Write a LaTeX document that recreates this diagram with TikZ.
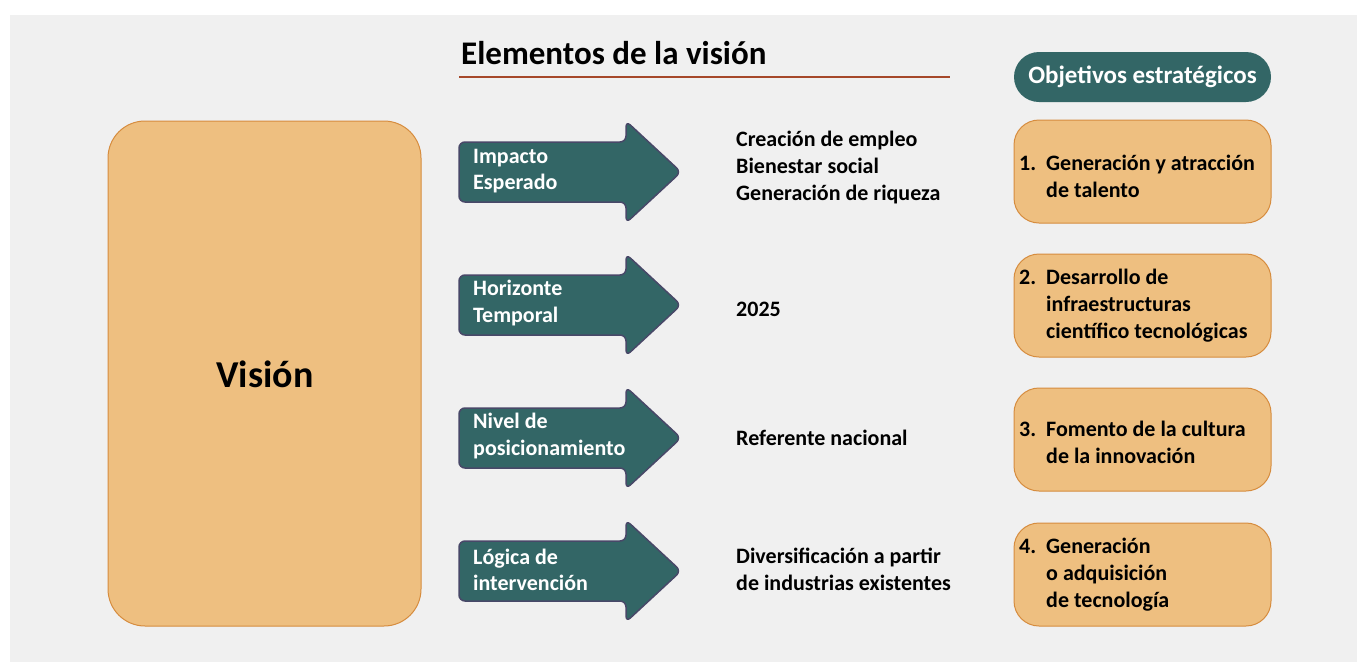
\documentclass[tikz,border=0pt]{standalone}
\usepackage{fontspec}
\setmainfont{Carlito}
\usepackage{tikz}
\usepackage{xcolor}
\definecolor{panelgrey}{RGB}{240, 240, 240}
\definecolor{visionorange}{RGB}{238, 191, 128}
\definecolor{edgeorange}{RGB}{214, 140, 62}
\definecolor{arrowteal}{RGB}{51, 102, 102}
\definecolor{arrowedge}{RGB}{72, 72, 104}
\definecolor{titlerule}{RGB}{166, 72, 42}

\tikzset{
    orangebox/.style={fill=visionorange, draw=edgeorange, line width=1pt, rounded corners=25pt},
    tealarrow/.style={fill=arrowteal, draw=arrowedge, line width=1.5pt, rounded corners=6pt},
    arrowtext/.style={anchor=west, align=left, text=white, font=\bfseries\fontsize{22}{26.5}\selectfont, inner sep=0pt},
    itemtext/.style={anchor=west, align=left, font=\bfseries\fontsize{22}{27}\selectfont, inner sep=0pt},
    goaltext/.style={anchor=west, align=left, font=\bfseries\fontsize{22}{27}\selectfont, inner sep=0pt}
}
\newcommand{\goalnum}[1]{\makebox[27pt][l]{#1}}
\newcommand{\goalpad}{\hspace*{27pt}}

\begin{document}
\begin{tikzpicture}[x=1pt, y=-1pt]
    \useasboundingbox (0,0) rectangle (1357,662);
    \fill[white] (0,0) rectangle (1357,662);
    \fill[panelgrey] (10,15) rectangle (1357,662);

    % Title
    \node[anchor=west, inner sep=0pt, font=\bfseries\fontsize{33}{38}\selectfont] (title) at (461,53) {Elementos de la visión};
    \draw[titlerule, line width=2.5pt] (459,77) -- (950,77);

    % Vision
    \draw[orangebox, rounded corners=37pt] (108,121) rectangle (421,626);
    \node[font=\bfseries\fontsize{38}{44}\selectfont] (vision) at (265,374) {Visión};

    % Arrow 1
    \draw[tealarrow] (459,142) -- (626,142) -- (626,121) -- (681,172) -- (626,223) -- (626,202) -- (459,202) -- cycle;
    \node[arrowtext] (impacto) at (473,171) {Impacto\\Esperado};
    \node[itemtext] (empleo) at (736,168) {Creación de empleo\\Bienestar social\\Generación de riqueza};

    % Arrow 2
    \draw[tealarrow] (459,275) -- (626,275) -- (626,254) -- (681,305) -- (626,356) -- (626,335) -- (459,335) -- cycle;
    \node[arrowtext] (horizonte) at (473,303) {Horizonte\\Temporal};
    \node[itemtext] (year) at (736,309) {2025};

    % Arrow 3
    \draw[tealarrow] (459,408) -- (626,408) -- (626,387) -- (681,438) -- (626,489) -- (626,468) -- (459,468) -- cycle;
    \node[arrowtext] (nivel) at (473,436) {Nivel de\\posicionamiento};
    \node[itemtext] (referente) at (736,438) {Referente nacional};

    % Arrow 4
    \draw[tealarrow] (459,541) -- (626,541) -- (626,520) -- (681,571) -- (626,622) -- (626,601) -- (459,601) -- cycle;
    \node[arrowtext] (logica) at (473,570) {Lógica de\\intervención};
    \node[itemtext] (diversif) at (736,569) {Diversificación a partir\\de industrias existentes};

    % Objectives header
    \draw[fill=arrowteal, draw=none, rounded corners=25pt] (1014,52) rectangle (1271,102);
    \node[text=white, font=\bfseries\fontsize{25}{30}\selectfont] (objhead) at (1142.5,77) {Objetivos estratégicos};

    % Objective 1
    \draw[orangebox] (1014,120) rectangle (1271,223);
    \node[goaltext] (goal1) at (1019,176) {\goalnum{1.}Generación y atracción\\\goalpad de talento};

    % Objective 2
    \draw[orangebox] (1014,254) rectangle (1271,357);
    \node[goaltext] (goal2) at (1019,306) {\goalnum{2.}Desarrollo de\\\goalpad infraestructuras\\\goalpad científico tecnológicas};

    % Objective 3
    \draw[orangebox] (1014,388) rectangle (1271,491);
    \node[goaltext] (goal3) at (1019,442) {\goalnum{3.}Fomento de la cultura\\\goalpad de la innovación};

    % Objective 4
    \draw[orangebox] (1014,523) rectangle (1271,626);
    \node[goaltext] (goal4) at (1019,575) {\goalnum{4.}Generación\\\goalpad o adquisición\\\goalpad de tecnología};
\end{tikzpicture}
\end{document}
